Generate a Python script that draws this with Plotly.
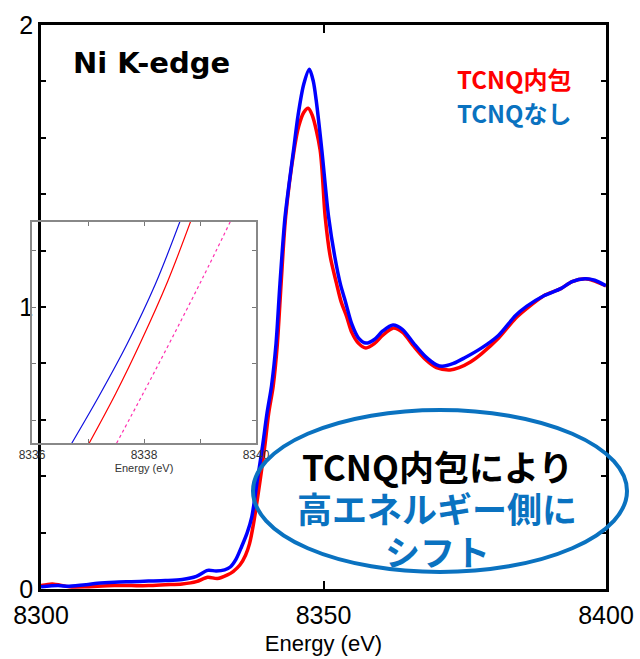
import plotly.graph_objects as go

# ---------------- data ----------------
energy_blue = [8300, 8303, 8305, 8308, 8310, 8313, 8316, 8319, 8322, 8325, 8327.5, 8329.5,
               8331, 8332.5, 8333.5, 8334.5, 8335.5, 8336.5, 8337.3, 8338.3, 8339.2, 8340,
               8340.8, 8341.6, 8342.3, 8343.2, 8344.7, 8345.5, 8346.5, 8347.5, 8348.2, 8348.7,
               8349.7, 8350.9, 8352, 8353, 8353.8, 8355, 8356.2, 8357.5, 8359, 8360.5, 8362.3,
               8364, 8366, 8368, 8370, 8371, 8373, 8375, 8378, 8381, 8384, 8386, 8389, 8392,
               8394, 8396.3, 8398, 8400]
mu_blue = [0.008, 0.012, 0.010, 0.015, 0.020, 0.024, 0.026, 0.028, 0.030, 0.034, 0.045, 0.066,
           0.064, 0.068, 0.078, 0.105, 0.150, 0.200, 0.255, 0.387, 0.505, 0.623,
           0.720, 0.870, 1.084, 1.320, 1.557, 1.680, 1.790, 1.843, 1.800, 1.734,
           1.557, 1.320, 1.178, 1.080, 1.025, 0.940, 0.890, 0.872, 0.885, 0.915, 0.936,
           0.920, 0.870, 0.825, 0.795, 0.790, 0.800, 0.820, 0.855, 0.900, 0.970, 1.003, 1.040, 1.065,
           1.090, 1.100, 1.095, 1.075]

energy_red = [8300, 8302, 8305, 8308, 8310, 8313, 8316, 8319, 8322, 8325, 8327.5, 8329.5,
              8331.2, 8333, 8334, 8335.2, 8336.2, 8336.9, 8337.6, 8338.8, 8339.6, 8340.3,
              8341.1, 8341.8, 8342.5, 8343.3, 8344.8, 8345.6, 8346.5, 8347.3, 8348, 8349.4,
              8350.3, 8351.2, 8352.3, 8353.1, 8354.1, 8355, 8356.2, 8357.5, 8359, 8360.5, 8362.3,
              8364, 8366, 8368, 8370, 8372.4, 8374, 8376, 8378, 8381, 8384, 8386, 8389, 8392,
              8394, 8396.3, 8398, 8400]
mu_red = [0.012, 0.018, 0.008, 0.008, 0.010, 0.012, 0.012, 0.012, 0.015, 0.018, 0.026, 0.042,
          0.037, 0.050, 0.062, 0.085, 0.120, 0.160, 0.230, 0.387, 0.505, 0.623,
          0.720, 0.860, 1.084, 1.320, 1.557, 1.640, 1.690, 1.705, 1.680, 1.557,
          1.320, 1.178, 1.084, 1.020, 0.966, 0.910, 0.871, 0.855, 0.870, 0.900, 0.925,
          0.910, 0.860, 0.815, 0.785, 0.777, 0.785, 0.805, 0.835, 0.890, 0.960, 0.995, 1.040, 1.065,
          1.090, 1.100, 1.092, 1.075]

# inset (edge region, 8336-8340 eV)
inset_e_blue = [8336.71, 8337.20, 8337.70, 8338.20, 8338.64]
inset_mu_blue = [0.159, 0.243, 0.335, 0.440, 0.551]
inset_e_red = [8337.02, 8337.50, 8337.95, 8338.42, 8338.83]
inset_mu_red = [0.159, 0.248, 0.340, 0.445, 0.551]
inset_e_pink = [8337.51, 8338.00, 8338.50, 8339.04, 8339.54]
inset_mu_pink = [0.159, 0.250, 0.345, 0.450, 0.551]

x_ticks = [8300, 8350, 8400]
y_ticks = [0, 0.2, 0.4, 0.6, 0.8, 1.0, 1.2, 1.4, 1.6, 1.8, 2.0]
y_ticklabels = ["0", "", "", "", "", "1", "", "", "", "", "2"]
inset_x_ticks = [8336, 8337, 8338, 8339, 8340]
inset_x_ticklabels = ["8336", "", "8338", "", "8340"]
inset_y_ticks = [0.2, 0.3, 0.4, 0.5]

label_red = "TCNQ内包"
label_blue = "TCNQなし"
title_text = "Ni K-edge"
note_lines = ["TCNQ内包により", "高エネルギー側に", "シフト"]

# ---------------- layout helpers ----------------
W, H = 640, 659
ML, MR, MT, MB = 30, 34, 25, 70
PW, PH = W - ML - MR, H - MT - MB


def px(x):
    return (x - ML) / PW


def py(y):
    return (H - MB - y) / PH


RED = "#ff0000"
BLUE = "#0000ff"
OBLUE = "#0a72c0"

fig = go.Figure()
fig.add_trace(go.Scatter(x=energy_red, y=mu_red, mode="lines", name=label_red,
                         line=dict(color=RED, width=3.5, shape="spline", smoothing=0.8),
                         xaxis="x", yaxis="y", showlegend=False))
fig.add_trace(go.Scatter(x=energy_blue, y=mu_blue, mode="lines", name=label_blue,
                         line=dict(color=BLUE, width=3.5, shape="spline", smoothing=0.8),
                         xaxis="x", yaxis="y", showlegend=False))

fig.add_trace(go.Scatter(x=inset_e_blue, y=inset_mu_blue, mode="lines",
                         line=dict(color="#1010e0", width=1.2, shape="spline"),
                         xaxis="x2", yaxis="y2", showlegend=False))
fig.add_trace(go.Scatter(x=inset_e_red, y=inset_mu_red, mode="lines",
                         line=dict(color=RED, width=1.2, shape="spline"),
                         xaxis="x2", yaxis="y2", showlegend=False))
fig.add_trace(go.Scatter(x=inset_e_pink, y=inset_mu_pink, mode="lines",
                         line=dict(color="#ff30b0", width=1.2, dash="dot", shape="spline"),
                         xaxis="x2", yaxis="y2", showlegend=False))

tick_font = dict(family="Liberation Sans, Arial", size=25, color="#000")

fig.update_layout(
    width=W, height=H,
    margin=dict(l=ML, r=MR, t=MT, b=MB, autoexpand=False),
    paper_bgcolor="white",
    plot_bgcolor="rgba(0,0,0,0)",
    xaxis=dict(domain=[px(41), 1], range=[8300, 8400], tickvals=x_ticks, automargin=False,
               ticks="inside", ticklen=8, tickwidth=2, tickcolor="#000",
               showline=True, linecolor="#000", linewidth=2.5, mirror="ticks",
               showgrid=False, zeroline=False, tickfont=tick_font, ticklabelstandoff=2,
               title=dict(text="Energy (eV)", font=dict(family="Liberation Sans, Arial", size=22, color="#000"),
                          standoff=8)),
    yaxis=dict(domain=[0, 1], range=[0, 2], tickvals=y_ticks, ticktext=y_ticklabels, automargin=False,
               ticks="inside", ticklen=5, tickwidth=2, tickcolor="#000",
               showline=True, linecolor="#000", linewidth=2.5, mirror="ticks",
               showgrid=False, zeroline=False, tickfont=tick_font, ticklabelstandoff=0),
    xaxis2=dict(domain=[px(32), px(256)], range=[8336, 8340], anchor="y2", automargin=False,
                tickvals=inset_x_ticks, ticktext=inset_x_ticklabels,
                ticks="inside", ticklen=4, tickwidth=1, tickcolor="#777",
                showline=True, linecolor="#888", linewidth=1.5, mirror="ticks",
                showgrid=False, zeroline=False,
                tickfont=dict(family="Liberation Sans, Arial", size=12, color="#333"),
                title=dict(text="Energy (eV)", font=dict(family="Liberation Sans, Arial", size=11, color="#333"),
                           standoff=2)),
    yaxis2=dict(domain=[py(443), py(222)], range=[0.1594, 0.5507], anchor="x2", automargin=False,
                tickvals=inset_y_ticks, showticklabels=False,
                ticks="inside", ticklen=4, tickwidth=1, tickcolor="#777",
                showline=True, linecolor="#888", linewidth=1.5, mirror="ticks",
                showgrid=False, zeroline=False),
)

annotations = [
    dict(text="<b>" + title_text + "</b>", x=px(71), y=py(63), xanchor="left", yanchor="middle",
         font=dict(family="DejaVu Sans", size=29, color="#000")),
    dict(text="<b>" + label_red + "</b>", x=px(455), y=py(78), xanchor="left", yanchor="middle",
         font=dict(family="Noto Sans CJK JP", size=24, color=RED)),
    dict(text="<b>" + label_blue + "</b>", x=px(455), y=py(112), xanchor="left", yanchor="middle",
         font=dict(family="Noto Sans CJK JP", size=24, color=OBLUE)),
    dict(text="<b>" + note_lines[0] + "</b>", x=px(437), y=py(465), xanchor="center", yanchor="middle",
         font=dict(family="Noto Sans CJK JP", size=35, color="#000")),
    dict(text="<b>" + note_lines[1] + "</b>", x=px(437), y=py(507), xanchor="center", yanchor="middle",
         font=dict(family="Noto Sans CJK JP", size=35, color=OBLUE)),
    dict(text="<b>" + note_lines[2] + "</b>", x=px(437), y=py(550), xanchor="center", yanchor="middle",
         font=dict(family="Noto Sans CJK JP", size=35, color=OBLUE)),
]
for a in annotations:
    a.update(xref="paper", yref="paper", showarrow=False)
fig.update_layout(annotations=annotations)

fig.add_shape(type="circle", xref="paper", yref="paper",
              x0=px(253), x1=px(627), y0=py(572), y1=py(410),
              line=dict(color=OBLUE, width=4), fillcolor="rgba(0,0,0,0)", layer="above")

fig.write_html("out.html")
